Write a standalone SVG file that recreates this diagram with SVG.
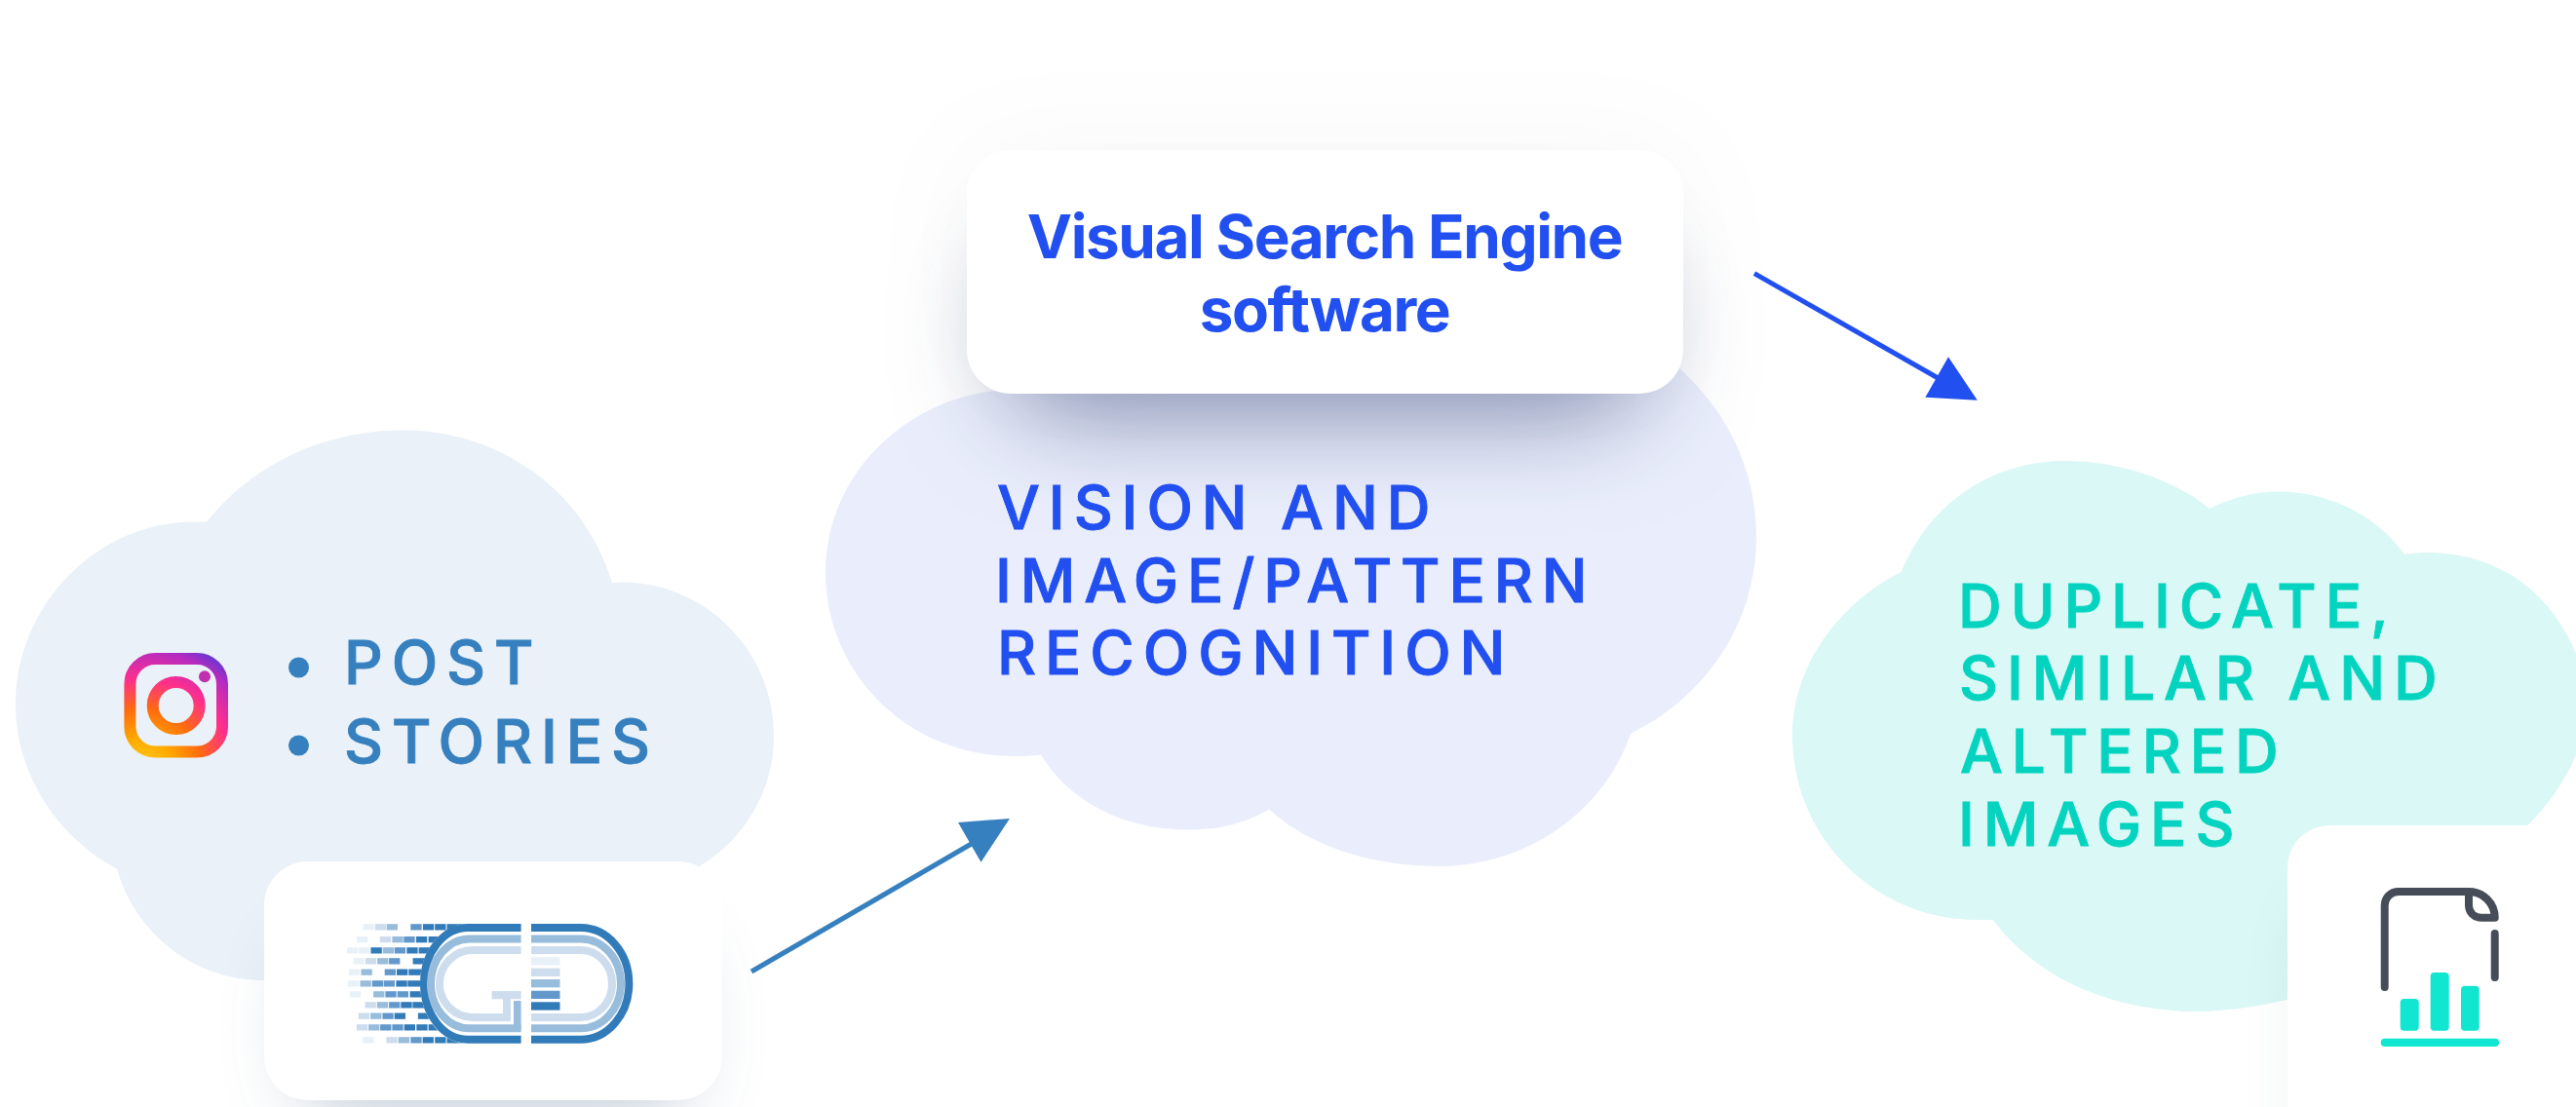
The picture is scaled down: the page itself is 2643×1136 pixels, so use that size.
<svg xmlns="http://www.w3.org/2000/svg" width="2643" height="1136" viewBox="0 0 2643 1136">
<style>
.cap{font-family:Inter,"Liberation Sans",sans-serif;font-weight:500;font-size:62px;letter-spacing:8.9px;stroke-width:.9px}
.eng{font-family:Inter,"Liberation Sans",sans-serif;font-weight:700;font-size:62px;fill:#214ff0;text-anchor:middle;letter-spacing:-1.45px}
.card{fill:#fff}
.b{height:6.3px;width:11.3px}
.a{fill:#e9f1f8}.c{fill:#cdddee}.e{fill:#98bcdc}.f{fill:#6298cb}.d{fill:#327bb9}
.ig{fill:none;stroke:url(#igrad);stroke-width:12}
.ring{fill:none;stroke-width:8}
</style>
<defs>
<filter id="sh" filterUnits="userSpaceOnUse" x="700" y="0" width="1400" height="800" color-interpolation-filters="sRGB">
<feMorphology in="SourceAlpha" operator="erode" radius="45"/>
<feOffset dy="62"/>
<feGaussianBlur stdDeviation="54" result="s"/>
<feFlood flood-color="#14245c" flood-opacity="0.5"/>
<feComposite in2="s" operator="in" result="core"/>
<feGaussianBlur in="SourceAlpha" stdDeviation="55" result="h"/>
<feFlood flood-color="#14245c" flood-opacity="0.03"/>
<feComposite in2="h" operator="in" result="halo"/>
<feMerge><feMergeNode in="halo"/><feMergeNode in="core"/><feMergeNode in="SourceGraphic"/></feMerge>
</filter>
<filter id="sh2" filterUnits="userSpaceOnUse" x="100" y="700" width="800" height="436" color-interpolation-filters="sRGB">
<feMorphology in="SourceAlpha" operator="erode" radius="38"/>
<feOffset dy="48"/>
<feGaussianBlur stdDeviation="38" result="s"/>
<feFlood flood-color="#1a3f6c" flood-opacity="0.3"/>
<feComposite in2="s" operator="in" result="core"/>
<feMerge><feMergeNode in="core"/><feMergeNode in="SourceGraphic"/></feMerge>
</filter>
<filter id="sh3" filterUnits="userSpaceOnUse" x="2150" y="700" width="700" height="600" color-interpolation-filters="sRGB">
<feMorphology in="SourceAlpha" operator="erode" radius="38"/>
<feOffset dy="48"/>
<feGaussianBlur stdDeviation="38" result="s"/>
<feFlood flood-color="#1a3a3c" flood-opacity="0.2"/>
<feComposite in2="s" operator="in" result="core"/>
<feMerge><feMergeNode in="core"/><feMergeNode in="SourceGraphic"/></feMerge>
</filter>
<radialGradient id="igrad" gradientUnits="userSpaceOnUse" cx="145" cy="790" r="150">
<stop offset="0" stop-color="#ffd21e"/><stop offset=".22" stop-color="#ffa800"/><stop offset=".42" stop-color="#ff6a10"/><stop offset=".62" stop-color="#ff2f8c"/><stop offset=".82" stop-color="#b52bc0"/><stop offset="1" stop-color="#1f42e0"/>
</radialGradient>
</defs>
<rect width="2643" height="1136" fill="#fff"/>

<g id="source-cloud">
<path fill="#eaf1f8" d="M212,535.5C260,475 335,441.5 413,441.5C515,441.5 600,505 628,598C632,598 635,597.5 638,597.5C724,597.5 794,668 794,755.6C794,810 765,860 719,888L600,1000L272,1006C200,1006 140,960 120,891.7C60,860 16,795 16,723.6C16,620 100,535.5 199,535.5Z"/>
</g>
<g id="vision-cloud">
<path fill="#eaeefc" d="M1723,378C1770,420 1802,480 1802,551C1802,640 1750,715 1673,753C1645,835 1565,889 1476,889C1400,889 1340,865 1302,830.6C1278,845 1250,851.5 1219,851.5C1150,851.5 1095,820 1068,774.5C1058,776 1050,776 1040,776C933,776 847,692 847,587C847,490 925,412 1020,401Z"/>
</g>
<g id="result-cloud">
<path fill="#daf8f5" d="M1950.6,587C1980,515 2045,473 2118.5,473C2175,473 2230,492 2267,522C2290,510 2315,504.6 2338.6,504.6C2390,504.6 2440,530 2467,569C2475,567.5 2482,567 2490,567C2565,567 2625,610 2650,690C2665,740 2640,800 2594.5,846L2400,1010C2360,1025 2300,1038 2253,1038C2170,1038 2090,1005 2045,944C2038,944 2035,944 2028,944C1925,944 1839,860 1839,755C1839,685 1885,620 1950.6,587Z"/>
</g>

<g id="engine">
<rect class="card" x="992" y="154" width="735" height="250" rx="45" filter="url(#sh)"/>
<text class="eng" x="1359" y="265">Visual Search Engine</text>
<text class="eng" x="1359" y="340">software</text>
</g>

<g id="source-card">
<rect class="card" x="271" y="884" width="470" height="245" rx="45" filter="url(#sh2)"/>
<g id="logo">
<rect class="b a" x="372.5" y="948.2"/><rect class="b c" x="384.8" y="948.2"/><rect class="b e" x="396.7" y="948.2"/><rect class="b f" x="421.3" y="948.2"/><rect class="b d" x="433.9" y="948.2"/><rect class="b d" x="446.2" y="948.2"/><rect class="b d" x="458.5" y="948.2" style="width:30px"/>
<rect class="b a" x="365.9" y="961"/><rect class="b c" x="389.8" y="961"/><rect class="b e" x="402.4" y="961"/><rect class="b f" x="414.3" y="961"/><rect class="b d" x="426.9" y="961"/><rect class="b d" x="439.6" y="961" style="width:22px"/>
<rect class="b a" x="355.9" y="972.2"/><rect class="b a" x="368.2" y="972.2"/><rect class="b d" x="380.5" y="972.2"/><rect class="b e" x="392.7" y="972.2"/><rect class="b f" x="404.7" y="972.2"/><rect class="b d" x="417.3" y="972.2"/><rect class="b d" x="429.6" y="972.2" style="width:20px"/>
<rect class="b a" x="362.5" y="983.2"/><rect class="b c" x="374.8" y="983.2"/><rect class="b e" x="387.1" y="983.2"/><rect class="b f" x="399.1" y="983.2"/><rect class="b d" x="423.6" y="983.2" style="width:16px"/>
<rect class="b a" x="357.9" y="994.5"/><rect class="b e" x="370.5" y="994.5"/><rect class="b f" x="394.7" y="994.5"/><rect class="b d" x="407" y="994.5"/><rect class="b d" x="419.3" y="994.5" style="width:16px"/>
<rect class="b a" x="356.9" y="1006.2"/><rect class="b e" x="369.5" y="1006.2"/><rect class="b f" x="381.8" y="1006.2"/><rect class="b f" x="393.7" y="1006.2"/><rect class="b d" x="406.4" y="1006.2"/><rect class="b d" x="418.3" y="1006.2" style="width:16px"/>
<rect class="b a" x="358.9" y="1017.2"/><rect class="b e" x="383.1" y="1017.2"/><rect class="b f" x="395.4" y="1017.2"/><rect class="b f" x="407.7" y="1017.2"/><rect class="b d" x="420.6" y="1017.2" style="width:16px"/>
<rect class="b c" x="374.5" y="1028.2"/><rect class="b e" x="386.8" y="1028.2"/><rect class="b f" x="399.1" y="1028.2"/><rect class="b d" x="411.3" y="1028.2"/><rect class="b d" x="423.3" y="1028.2" style="width:16px"/>
<rect class="b c" x="367.8" y="1039.5"/><rect class="b e" x="380.1" y="1039.5"/><rect class="b f" x="392.4" y="1039.5"/><rect class="b d" x="404.7" y="1039.5"/><rect class="b d" x="428.9" y="1039.5" style="width:16px"/>
<rect class="b c" x="365.9" y="1051.2"/><rect class="b e" x="378.1" y="1051.2"/><rect class="b f" x="390.1" y="1051.2"/><rect class="b f" x="402.4" y="1051.2"/><rect class="b d" x="414.7" y="1051.2"/><rect class="b d" x="427.3" y="1051.2"/><rect class="b d" x="439.6" y="1051.2" style="width:22px"/>
<rect class="b a" x="372.2" y="1064.2"/><rect class="b c" x="396.4" y="1064.2"/><rect class="b e" x="408.7" y="1064.2"/><rect class="b f" x="421.3" y="1064.2"/><rect class="b d" x="433.6" y="1064.2"/><rect class="b d" x="446.2" y="1064.2"/><rect class="b d" x="458.5" y="1064.2" style="width:30px"/>
<path fill="#fff" d="M480,948A49,61 0 0 0 431,1009.3A49,61 0 0 0 480,1071H540V948Z"/>
<path class="ring" stroke="#327bb9" d="M534.6,952H480A45,57.3 0 0 0 435,1009.3A45,57.3 0 0 0 480,1066.7H534.6M545,952H596A49.4,57.3 0 0 1 645.4,1009.3A49.4,57.3 0 0 1 596,1066.7H545"/>
<path class="ring" stroke="#98bcdc" d="M534.6,963.5H482A40,45.9 0 0 0 442,1009.4A40,45.9 0 0 0 482,1055.3H534.6M545,963.5H596A41,45.9 0 0 1 637,1009.4A41,45.9 0 0 1 596,1055.3H545"/>
<path class="ring" stroke="#cdddee" d="M534.6,975H485A34,34.5 0 0 0 451,1009.5A34,34.5 0 0 0 485,1044H520V1022M545,975H596A32,34.5 0 0 1 628,1009.5A32,34.5 0 0 1 596,1044H545"/>
<rect x="504.6" y="1017" width="30" height="8.3" fill="#cdddee"/>
<rect x="527" y="1027" width="7.6" height="30" fill="#98bcdc"/>
<rect x="545" y="982.3" width="29.5" height="8.3" fill="#e9f1f8"/>
<rect x="545" y="993.7" width="29.5" height="8.3" fill="#cdddee"/>
<rect x="545" y="1005" width="29.5" height="8.3" fill="#98bcdc"/>
<rect x="545" y="1016.7" width="29.5" height="8.3" fill="#6298cb"/>
<rect x="545" y="1028.3" width="29.5" height="8.3" fill="#327bb9"/>
</g>
</g>

<g id="result-card">
<rect class="card" x="2347" y="847" width="420" height="420" rx="43" filter="url(#sh3)"/>
<g id="report-icon">
<path fill="none" stroke="#474d58" stroke-width="8" stroke-linecap="round" stroke-linejoin="round" d="M2446.7,1013V929A14,14 0 0 1 2460.7,915H2533C2548,915 2559.7,927 2559.7,941.7H2546C2538,941.7 2533,936 2533,929V915M2559.7,958V1003"/>
<rect x="2462.7" y="1025" width="19" height="32.7" rx="4" fill="#10e6d0"/>
<rect x="2493.7" y="998" width="19" height="59.7" rx="4" fill="#10e6d0"/>
<rect x="2525" y="1011.7" width="18.7" height="46" rx="4" fill="#10e6d0"/>
<rect x="2442.7" y="1065.7" width="121.3" height="8.3" rx="4.1" fill="#10e6d0"/>
</g>
</g>

<g id="source-label">
<g id="instagram-icon">
<rect class="ig" x="133.4" y="676" width="94.6" height="95.5" rx="26"/>
<circle class="ig" cx="180.7" cy="724" r="24"/>
<circle cx="210" cy="694.3" r="6" fill="#c030b0"/>
</g>
<circle cx="306.5" cy="685" r="10.5" fill="#3680bf"/>
<circle cx="306.5" cy="765" r="10.5" fill="#3680bf"/>
<text class="cap" fill="#3680bf" stroke="#3680bf" x="353" y="702">POST</text>
<text class="cap" fill="#3680bf" stroke="#3680bf" x="353" y="783">STORIES</text>
</g>
<g id="vision-label">
<text class="cap" fill="#214ff0" stroke="#214ff0" x="1023" y="543">VISION AND</text>
<text class="cap" fill="#214ff0" stroke="#214ff0" x="1021" y="618">IMAGE/PATTERN</text>
<text class="cap" fill="#214ff0" stroke="#214ff0" x="1023" y="692">RECOGNITION</text>
</g>
<g id="result-label">
<text class="cap" fill="#04d4bf" stroke="#04d4bf" x="2009" y="644">DUPLICATE,</text>
<text class="cap" fill="#04d4bf" stroke="#04d4bf" x="2010" y="718">SIMILAR AND</text>
<text class="cap" fill="#04d4bf" stroke="#04d4bf" x="2011" y="793">ALTERED</text>
<text class="cap" fill="#04d4bf" stroke="#04d4bf" x="2009" y="868">IMAGES</text>
</g>

<g id="connectors">
<line x1="771" y1="997" x2="1000" y2="864" stroke="#3680bf" stroke-width="5"/>
<path d="M1036,840L983,844L1006.5,884.7Z" fill="#3680bf"/>
<line x1="1800" y1="280.6" x2="1992" y2="390" stroke="#214ff0" stroke-width="5"/>
<path d="M1999,366.3L2028.8,410.7L1975.4,407.7Z" fill="#214ff0"/>
</g>
</svg>
